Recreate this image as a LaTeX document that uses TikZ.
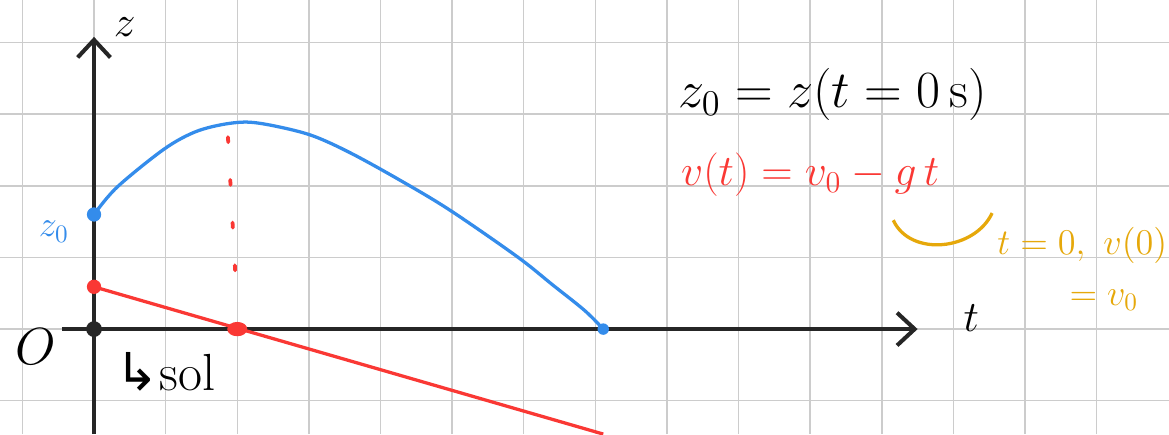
\documentclass[tikz,border=0pt]{standalone}
\usepackage{fontspec}
\newfontfamily\arrowfont{DejaVu Sans}
\usetikzlibrary{arrows.meta}

\definecolor{penblue}{RGB}{52,140,235}
\definecolor{penred}{RGB}{250,56,52}
\definecolor{penorange}{RGB}{230,168,10}

\tikzset{
    gridline/.style={gray!40, line width=0.6pt},
    axisline/.style={line width=1.6pt, black!85, -{Straight Barb[length=7pt, width=13pt, line width=1.6pt]}},
    penline/.style={line width=1.3pt},
}

\begin{document}
\begin{tikzpicture}[every node/.style={font=\LARGE}]

    % Page size
    \def\xmin{-1.313}
    \def\xmax{15.01}
    \def\ymin{-1.466}
    \def\ymax{4.595}
    \useasboundingbox (\xmin,\ymin) rectangle (\xmax,\ymax);
    \fill[white] (\xmin,\ymin) rectangle (\xmax,\ymax);

    % Squared paper
    \foreach \i in {-1,...,14} {
        \draw[gridline] (\i,\ymin) -- (\i,\ymax);
    }
    \foreach \j in {-1,...,4} {
        \draw[gridline] (\xmin,\j) -- (\xmax,\j);
    }

    % Axes
    \coordinate (origin) at (0,0);
    \coordinate (zbottom) at (0,\ymin);
    \coordinate (ztop) at (0,4.08);
    \coordinate (tleft) at (-0.45,0);
    \coordinate (tright) at (11.5,0);
    \draw[axisline] (zbottom) -- (ztop);
    \draw[axisline] (tleft) -- (tright);
    \node (zlabel) at (0.43,4.22) {$z$};
    \node (tlabel) at (12.25,0.15) {$t$};
    \fill[black!85] (origin) circle (0.11);
    \node[font=\huge] (olabel) at (-0.82,-0.24) {$O$};
    \node[font=\huge] (sollabel) at (1.0,-0.6) {{\arrowfont ↳}sol};

    % Height z(t)
    \coordinate (zstart) at (0,1.6);
    \coordinate (zend) at (7.11,0);
    \draw[penline, penblue] plot[smooth, tension=0.55] coordinates {
        (zstart) (0.32,1.98) (0.96,2.50) (1.38,2.74) (1.76,2.85) (2.14,2.89)
        (2.55,2.83) (3.05,2.70) (3.58,2.46) (4.27,2.08) (4.97,1.66)
        (5.91,1.01) (6.40,0.62) (6.85,0.26) (zend)};
    \fill[penblue] (zstart) circle (0.1);
    \fill[penblue] (zend) circle (0.08);
    \node[text=penblue, font=\Large] (zzero) at (-0.56,1.36) {$z_0$};

    % Velocity v(t)
    \coordinate (vstart) at (0,0.59);
    \coordinate (vzero) at (2.0,0);
    \coordinate (vend) at (7.11,\ymin);
    \draw[penline, penred] (vstart) -- (vend);
    \fill[penred] (vstart) circle (0.1);
    \fill[penred] (vzero) ellipse (0.14 and 0.1);
    \coordinate (topmark) at (1.87,2.68);
    \coordinate (axismark) at (1.99,0.45);
    \draw[penred, line width=1.5pt, line cap=round, dash pattern=on 2pt off 15pt] (topmark) -- (axismark);

    % Equations
    \node[font=\huge] (zeq) at (10.31,3.27) {$z_0 = z(t=0\,\mathrm{s})$};
    \node[text=penred] (veq) at (10.0,2.15) {$v(t) = v_0 - g\,t$};

    % Note on g t
    \coordinate (bracestart) at (11.16,1.52);
    \coordinate (braceend) at (12.54,1.62);
    \draw[penline, penorange] (bracestart) .. controls (11.4,1.0) and (12.3,1.1) .. (braceend);
    \node[text=penorange, font=\Large] (note) at (13.8,1.17) {$t=0,\ v(0)$};
    \node[text=penorange, font=\Large] (notetwo) at (14.1,0.4) {$=v_0$};

\end{tikzpicture}
\end{document}
